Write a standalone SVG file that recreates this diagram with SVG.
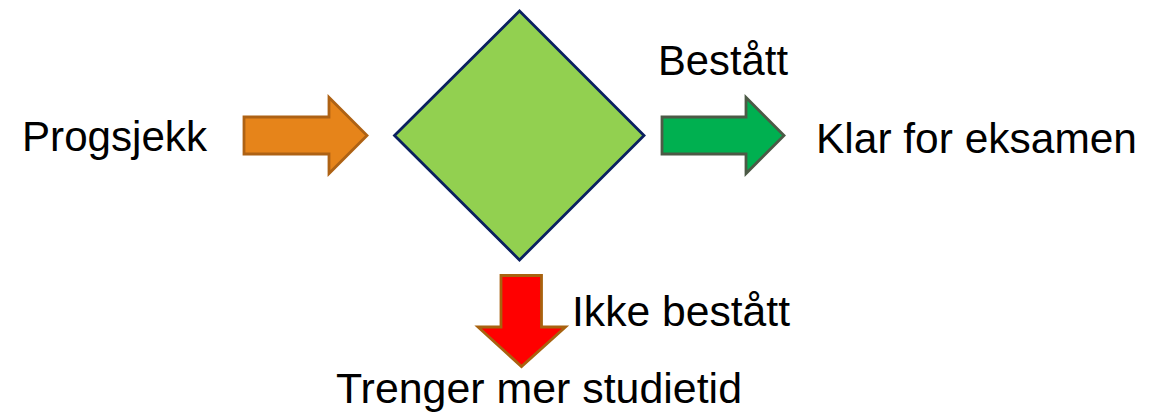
<svg xmlns="http://www.w3.org/2000/svg" width="1158" height="418" viewBox="0 0 1158 418">
<style>
text{font-family:"Liberation Sans",Arial,sans-serif;font-size:43px;fill:#000}
.arr{stroke-width:2.8;stroke-linejoin:miter}
</style>
<rect width="1158" height="418" fill="#fff"/>
<g id="progsjekk"><text x="22" y="151" textLength="185" lengthAdjust="spacingAndGlyphs">Progsjekk</text></g>
<g id="decision"><polygon points="519.5,11 644,135.5 519.5,260 394.5,135.5" fill="#92D050" stroke="#0A2060" stroke-width="2.8"/></g>
<g id="klar"><text x="816" y="153" textLength="321" lengthAdjust="spacingAndGlyphs">Klar for eksamen</text></g>
<g id="trenger"><text x="336" y="403" textLength="406" lengthAdjust="spacingAndGlyphs">Trenger mer studietid</text></g>
<g id="connectors">
<polygon class="arr" points="244,117 329,117 329,97.5 367,135.5 329,173.5 329,154 244,154" fill="#E6841A" stroke="#AE6214"/>
<polygon class="arr" points="662,117 746,117 746,97.5 784,135.5 746,173.5 746,154 662,154" fill="#00B050" stroke="#4C5A46"/>
<polygon class="arr" points="501,275.5 541.5,275.5 541.5,327 565.5,327 521.5,366.5 478,327 501,327" fill="#FF0000" stroke="#A8620F"/>
<text x="658" y="75" textLength="130" lengthAdjust="spacingAndGlyphs">Bestått</text>
<text x="572" y="326" textLength="218" lengthAdjust="spacingAndGlyphs">Ikke bestått</text>
</g>
</svg>
